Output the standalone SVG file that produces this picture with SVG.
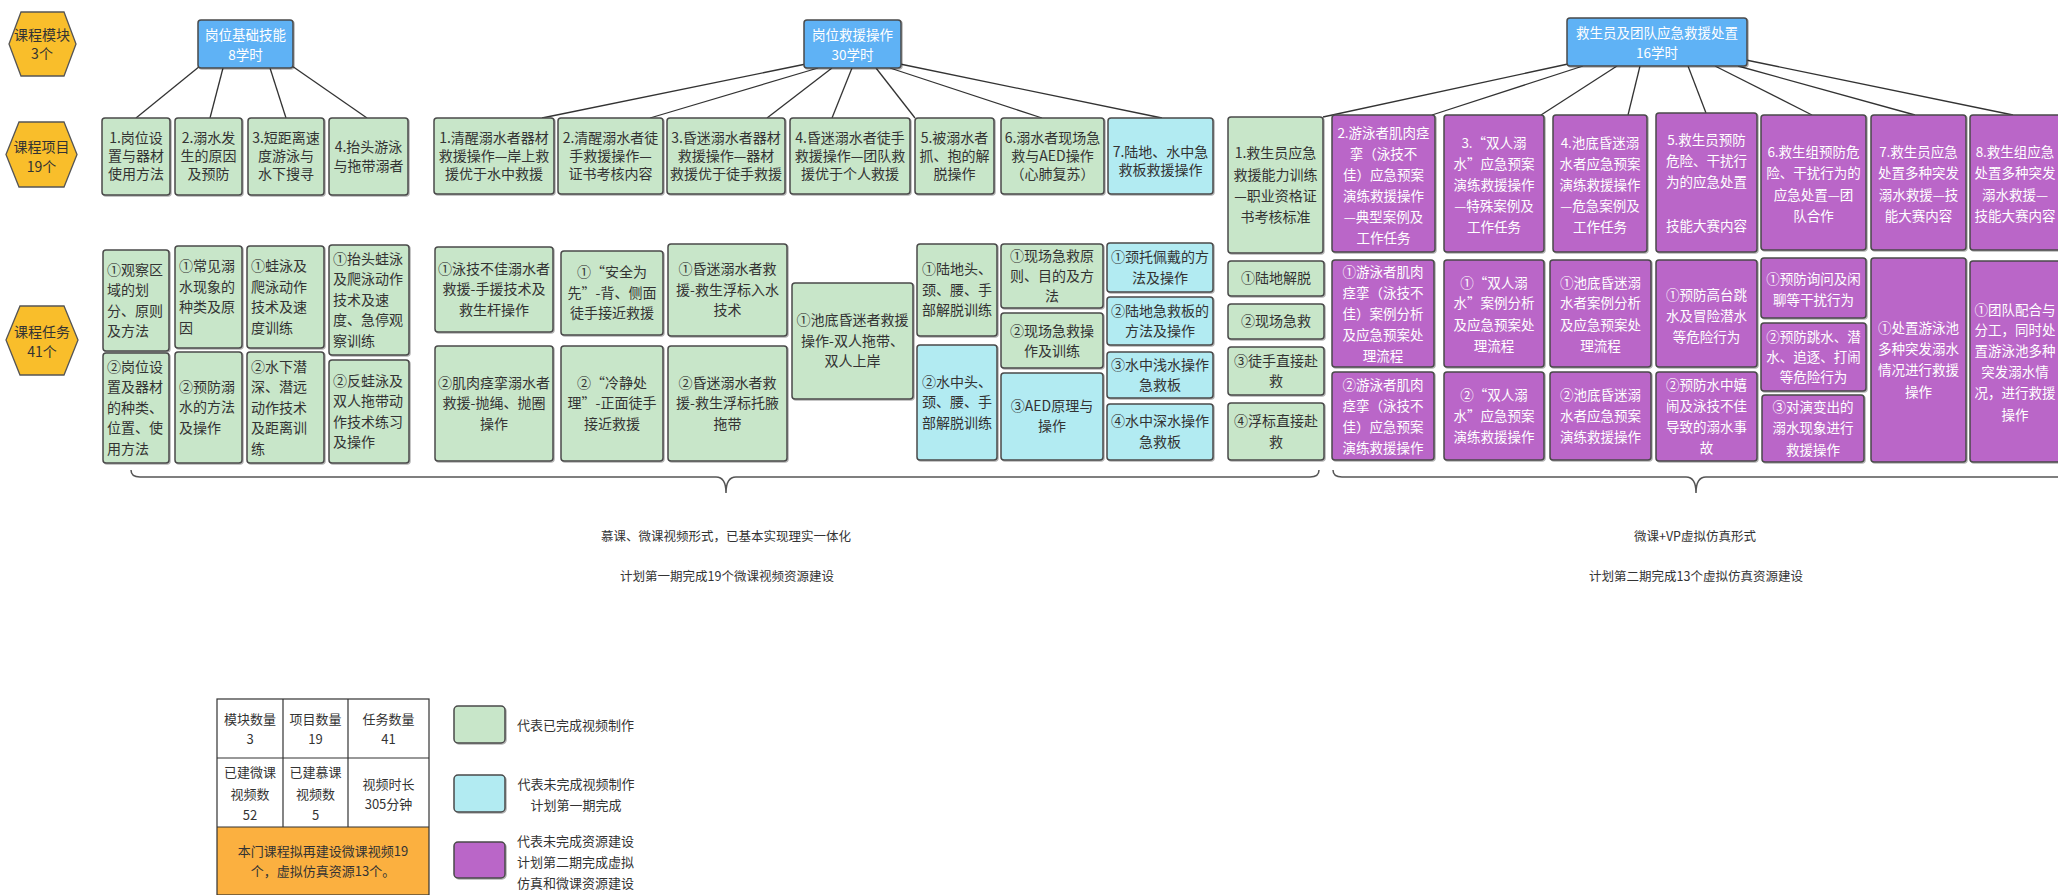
<svg xmlns="http://www.w3.org/2000/svg" width="2058" height="895" viewBox="0 0 2058 895">
<style>
.bx{stroke:#4a4a4a;stroke-width:1.5;filter:url(#sh)}
.g{fill:#C8E6C9}.c{fill:#B2EBF2}.p{fill:#BA66C8}.b{fill:#5FB2F5}.h{fill:#F9BE2B;stroke:#555;stroke-width:1.3}
text{font-family:"Noto Sans CJK SC","Noto Sans",sans-serif;font-size:14px;fill:#333;text-anchor:middle}
.l{text-anchor:start}
.w{fill:#fff;font-size:13.5px}
.bt{fill:#fff;font-size:13.5px}
.s{font-size:12.5px;fill:#333}
.lg{font-size:13px}
.cn line{stroke:#333;stroke-width:1.3}
.br{fill:none;stroke:#555;stroke-width:1.5}
</style>
<defs>
<filter id="sh" x="-5%" y="-5%" width="115%" height="115%"><feDropShadow dx="1" dy="1" stdDeviation="0.7" flood-color="#000" flood-opacity="0.3"/></filter>
</defs>
<rect width="2058" height="895" fill="#fff"/>

<g class="cn" id="connectors">
<line x1="200" y1="66" x2="136" y2="118"/>
<line x1="223" y1="68" x2="210" y2="118"/>
<line x1="270" y1="68" x2="286" y2="118"/>
<line x1="292" y1="66" x2="367" y2="118"/>
<line x1="806" y1="64" x2="542" y2="118"/>
<line x1="818" y1="68" x2="650" y2="118"/>
<line x1="832" y1="68" x2="767" y2="118"/>
<line x1="852" y1="68" x2="832" y2="118"/>
<line x1="876" y1="68" x2="915" y2="118"/>
<line x1="890" y1="68" x2="1042" y2="118"/>
<line x1="900" y1="64" x2="1162" y2="118"/>
<line x1="1568" y1="64" x2="1323" y2="117"/>
<line x1="1583" y1="66" x2="1432" y2="115"/>
<line x1="1617" y1="66" x2="1541" y2="115"/>
<line x1="1640" y1="66" x2="1628" y2="115"/>
<line x1="1688" y1="66" x2="1706" y2="113"/>
<line x1="1715" y1="66" x2="1812" y2="115"/>
<line x1="1738" y1="66" x2="1915" y2="115"/>
<line x1="1746" y1="60" x2="2013" y2="115"/>
</g>

<g id="hex-module"><polygon class="h" points="9,44 21,12 64,12 76,44 64,76 21,76"/><text><tspan x="42" y="40">课程模块</tspan><tspan x="42" y="59">3个</tspan></text></g>
<g id="hex-project"><polygon class="h" points="6,154.5 19,122 64,122 77,154.5 64,187 19,187"/><text><tspan x="41.5" y="152">课程项目</tspan><tspan x="41.5" y="172">19个</tspan></text></g>
<g id="hex-task"><polygon class="h" points="6,340 20,306 64,306 78,340 64,375 20,375"/><text><tspan x="42" y="337">课程任务</tspan><tspan x="42" y="357">41个</tspan></text></g>

<g id="m1"><rect class="bx b" x="198" y="20" width="95" height="48" rx="3"/><text class="bt"><tspan x="245.5" y="40">岗位基础技能</tspan><tspan x="245.5" y="60">8学时</tspan></text></g>
<g id="m2"><rect class="bx b" x="804" y="20" width="97" height="48" rx="3"/><text class="bt"><tspan x="852.5" y="40">岗位救援操作</tspan><tspan x="852.5" y="60">30学时</tspan></text></g>
<g id="m3"><rect class="bx b" x="1567" y="18" width="180" height="48" rx="3"/><text class="bt"><tspan x="1657" y="38">救生员及团队应急救援处置</tspan><tspan x="1657" y="58">16学时</tspan></text></g>

<g id="p1"><rect class="bx g" x="102" y="118" width="68" height="77" rx="3"/><text><tspan x="136" y="143">1.岗位设</tspan><tspan x="136" y="161">置与器材</tspan><tspan x="136" y="179">使用方法</tspan></text></g>
<g id="p2"><rect class="bx g" x="175" y="118" width="67" height="77" rx="3"/><text><tspan x="208.5" y="143">2.溺水发</tspan><tspan x="208.5" y="161">生的原因</tspan><tspan x="208.5" y="179">及预防</tspan></text></g>
<g id="p3"><rect class="bx g" x="248" y="118" width="76" height="77" rx="3"/><text><tspan x="286" y="143">3.短距离速</tspan><tspan x="286" y="161">度游泳与</tspan><tspan x="286" y="179">水下搜寻</tspan></text></g>
<g id="p4"><rect class="bx g" x="329" y="118" width="79" height="77" rx="3"/><text><tspan x="368.5" y="152">4.抬头游泳</tspan><tspan x="368.5" y="171">与拖带溺者</tspan></text></g>
<g id="p5"><rect class="bx g" x="434" y="118" width="120" height="76" rx="3"/><text><tspan x="494" y="143">1.清醒溺水者器材</tspan><tspan x="494" y="161">救援操作—岸上救</tspan><tspan x="494" y="179">援优于水中救援</tspan></text></g>
<g id="p6"><rect class="bx g" x="558" y="118" width="105" height="76" rx="3"/><text><tspan x="610.5" y="143">2.清醒溺水者徒</tspan><tspan x="610.5" y="161">手救援操作—</tspan><tspan x="610.5" y="179">证书考核内容</tspan></text></g>
<g id="p7"><rect class="bx g" x="667" y="118" width="118" height="76" rx="3"/><text><tspan x="726" y="143">3.昏迷溺水者器材</tspan><tspan x="726" y="161">救援操作—器材</tspan><tspan x="726" y="179">救援优于徒手救援</tspan></text></g>
<g id="p8"><rect class="bx g" x="790" y="118" width="120" height="76" rx="3"/><text><tspan x="850" y="143">4.昏迷溺水者徒手</tspan><tspan x="850" y="161">救援操作—团队救</tspan><tspan x="850" y="179">援优于个人救援</tspan></text></g>
<g id="p9"><rect class="bx g" x="915" y="118" width="79" height="76" rx="3"/><text><tspan x="954.5" y="143">5.被溺水者</tspan><tspan x="954.5" y="161">抓、抱的解</tspan><tspan x="954.5" y="179">脱操作</tspan></text></g>
<g id="p10"><rect class="bx g" x="1001" y="118" width="103" height="76" rx="3"/><text><tspan x="1052.5" y="143">6.溺水者现场急</tspan><tspan x="1052.5" y="161">救与AED操作</tspan><tspan x="1052.5" y="179">（心肺复苏）</tspan></text></g>
<g id="p11"><rect class="bx c" x="1108" y="118" width="105" height="76" rx="3"/><text><tspan x="1160.5" y="157">7.陆地、水中急</tspan><tspan x="1160.5" y="175">救板救援操作</tspan></text></g>
<g id="p12"><rect class="bx g" x="1228" y="117" width="95" height="136" rx="3"/><text><tspan x="1275.5" y="158">1.救生员应急</tspan><tspan x="1275.5" y="180">救援能力训练</tspan><tspan x="1275.5" y="201">—职业资格证</tspan><tspan x="1275.5" y="222">书考核标准</tspan></text></g>
<g id="p13"><rect class="bx p" x="1332" y="115" width="103" height="137" rx="3"/><text class="w"><tspan x="1383.5" y="138">2.游泳者肌肉痉</tspan><tspan x="1383.5" y="159">挛（泳技不</tspan><tspan x="1383.5" y="180">佳）应急预案</tspan><tspan x="1383.5" y="201">演练救援操作</tspan><tspan x="1383.5" y="222">—典型案例及</tspan><tspan x="1383.5" y="243">工作任务</tspan></text></g>
<g id="p14"><rect class="bx p" x="1444" y="115" width="100" height="137" rx="3"/><text class="w"><tspan x="1494" y="148">3.“双人溺</tspan><tspan x="1494" y="169">水”应急预案</tspan><tspan x="1494" y="190">演练救援操作</tspan><tspan x="1494" y="211">—特殊案例及</tspan><tspan x="1494" y="232">工作任务</tspan></text></g>
<g id="p15"><rect class="bx p" x="1553" y="115" width="94" height="137" rx="3"/><text class="w"><tspan x="1600" y="148">4.池底昏迷溺</tspan><tspan x="1600" y="169">水者应急预案</tspan><tspan x="1600" y="190">演练救援操作</tspan><tspan x="1600" y="211">—危急案例及</tspan><tspan x="1600" y="232">工作任务</tspan></text></g>
<g id="p16"><rect class="bx p" x="1656" y="113" width="101" height="139" rx="3"/><text class="w"><tspan x="1706.5" y="145">5.救生员预防</tspan><tspan x="1706.5" y="166">危险、干扰行</tspan><tspan x="1706.5" y="187">为的应急处置</tspan><tspan x="1706.5" y="231">技能大赛内容</tspan></text></g>
<g id="p17"><rect class="bx p" x="1761" y="115" width="105" height="135" rx="3"/><text class="w"><tspan x="1813.5" y="157">6.救生组预防危</tspan><tspan x="1813.5" y="178">险、干扰行为的</tspan><tspan x="1813.5" y="200">应急处置—团</tspan><tspan x="1813.5" y="221">队合作</tspan></text></g>
<g id="p18"><rect class="bx p" x="1871" y="115" width="95" height="135" rx="3"/><text class="w"><tspan x="1918.5" y="157">7.救生员应急</tspan><tspan x="1918.5" y="178">处置多种突发</tspan><tspan x="1918.5" y="200">溺水救援—技</tspan><tspan x="1918.5" y="221">能大赛内容</tspan></text></g>
<g id="p19"><rect class="bx p" x="1970" y="115" width="100" height="135" rx="3"/><text class="w"><tspan x="2015" y="157">8.救生组应急</tspan><tspan x="2015" y="178">处置多种突发</tspan><tspan x="2015" y="200">溺水救援—</tspan><tspan x="2015" y="221">技能大赛内容</tspan></text></g>

<g id="t1a"><rect class="bx g" x="103" y="250" width="66" height="101" rx="3"/><text class="l"><tspan x="107" y="275">①观察区</tspan><tspan x="107" y="295">域的划</tspan><tspan x="107" y="316">分、原则</tspan><tspan x="107" y="336">及方法</tspan></text></g>
<g id="t1b"><rect class="bx g" x="103" y="353" width="66" height="110" rx="3"/><text class="l"><tspan x="107" y="372">②岗位设</tspan><tspan x="107" y="392">置及器材</tspan><tspan x="107" y="413">的种类、</tspan><tspan x="107" y="433">位置、使</tspan><tspan x="107" y="454">用方法</tspan></text></g>
<g id="t2a"><rect class="bx g" x="175" y="246" width="67" height="102" rx="3"/><text class="l"><tspan x="179" y="271">①常见溺</tspan><tspan x="179" y="292">水现象的</tspan><tspan x="179" y="312">种类及原</tspan><tspan x="179" y="333">因</tspan></text></g>
<g id="t2b"><rect class="bx g" x="175" y="352" width="67" height="111" rx="3"/><text class="l"><tspan x="179" y="392">②预防溺</tspan><tspan x="179" y="412">水的方法</tspan><tspan x="179" y="433">及操作</tspan></text></g>
<g id="t3a"><rect class="bx g" x="247" y="246" width="77" height="102" rx="3"/><text class="l"><tspan x="251" y="271">①蛙泳及</tspan><tspan x="251" y="292">爬泳动作</tspan><tspan x="251" y="312">技术及速</tspan><tspan x="251" y="333">度训练</tspan></text></g>
<g id="t3b"><rect class="bx g" x="247" y="352" width="77" height="111" rx="3"/><text class="l"><tspan x="251" y="372">②水下潜</tspan><tspan x="251" y="392">深、潜远</tspan><tspan x="251" y="413">动作技术</tspan><tspan x="251" y="433">及距离训</tspan><tspan x="251" y="454">练</tspan></text></g>
<g id="t4a"><rect class="bx g" x="329" y="245" width="80" height="110" rx="3"/><text class="l"><tspan x="333" y="264">①抬头蛙泳</tspan><tspan x="333" y="284">及爬泳动作</tspan><tspan x="333" y="305">技术及速</tspan><tspan x="333" y="325">度、急停观</tspan><tspan x="333" y="346">察训练</tspan></text></g>
<g id="t4b"><rect class="bx g" x="329" y="360" width="80" height="103" rx="3"/><text class="l"><tspan x="333" y="386">②反蛙泳及</tspan><tspan x="333" y="406">双人拖带动</tspan><tspan x="333" y="427">作技术练习</tspan><tspan x="333" y="447">及操作</tspan></text></g>

<g id="t5a"><rect class="bx g" x="435" y="247" width="118" height="85" rx="3"/><text><tspan x="494" y="274">①泳技不佳溺水者</tspan><tspan x="494" y="294">救援-手援技术及</tspan><tspan x="494" y="315">救生杆操作</tspan></text></g>
<g id="t5b"><rect class="bx g" x="435" y="346" width="118" height="115" rx="3"/><text><tspan x="494" y="388">②肌肉痉挛溺水者</tspan><tspan x="494" y="408">救援-抛绳、抛圈</tspan><tspan x="494" y="429">操作</tspan></text></g>
<g id="t6a"><rect class="bx g" x="561" y="251" width="102" height="84" rx="3"/><text><tspan x="612" y="277">①“安全为</tspan><tspan x="612" y="298">先”-背、侧面</tspan><tspan x="612" y="318">徒手接近救援</tspan></text></g>
<g id="t6b"><rect class="bx g" x="561" y="346" width="102" height="115" rx="3"/><text><tspan x="612" y="388">②“冷静处</tspan><tspan x="612" y="408">理”-正面徒手</tspan><tspan x="612" y="429">接近救援</tspan></text></g>
<g id="t7a"><rect class="bx g" x="668" y="244" width="119" height="92" rx="3"/><text><tspan x="727.5" y="274">①昏迷溺水者救</tspan><tspan x="727.5" y="295">援-救生浮标入水</tspan><tspan x="727.5" y="315">技术</tspan></text></g>
<g id="t7b"><rect class="bx g" x="668" y="346" width="119" height="115" rx="3"/><text><tspan x="727.5" y="388">②昏迷溺水者救</tspan><tspan x="727.5" y="408">援-救生浮标托腋</tspan><tspan x="727.5" y="429">拖带</tspan></text></g>
<g id="t8"><rect class="bx g" x="792" y="283" width="121" height="116" rx="3"/><text><tspan x="852.5" y="325">①池底昏迷者救援</tspan><tspan x="852.5" y="346">操作-双人拖带、</tspan><tspan x="852.5" y="366">双人上岸</tspan></text></g>
<g id="t9a"><rect class="bx g" x="917" y="244" width="80" height="92" rx="3"/><text><tspan x="957" y="274">①陆地头、</tspan><tspan x="957" y="295">颈、腰、手</tspan><tspan x="957" y="315">部解脱训练</tspan></text></g>
<g id="t9b"><rect class="bx c" x="917" y="345" width="80" height="115" rx="3"/><text><tspan x="957" y="387">②水中头、</tspan><tspan x="957" y="407">颈、腰、手</tspan><tspan x="957" y="428">部解脱训练</tspan></text></g>
<g id="t10a"><rect class="bx g" x="1001" y="244" width="102" height="64" rx="3"/><text><tspan x="1052" y="261">①现场急救原</tspan><tspan x="1052" y="281">则、目的及方</tspan><tspan x="1052" y="301">法</tspan></text></g>
<g id="t10b"><rect class="bx g" x="1001" y="313" width="102" height="55" rx="3"/><text><tspan x="1052" y="336">②现场急救操</tspan><tspan x="1052" y="356">作及训练</tspan></text></g>
<g id="t10c"><rect class="bx c" x="1001" y="373" width="102" height="87" rx="3"/><text><tspan x="1052" y="411">③AED原理与</tspan><tspan x="1052" y="431">操作</tspan></text></g>
<g id="t11a"><rect class="bx c" x="1107" y="243" width="106" height="49" rx="3"/><text><tspan x="1160" y="262">①颈托佩戴的方</tspan><tspan x="1160" y="283">法及操作</tspan></text></g>
<g id="t11b"><rect class="bx c" x="1107" y="297" width="106" height="48" rx="3"/><text><tspan x="1160" y="316">②陆地急救板的</tspan><tspan x="1160" y="336">方法及操作</tspan></text></g>
<g id="t11c"><rect class="bx c" x="1107" y="352" width="106" height="46" rx="3"/><text><tspan x="1160" y="370">③水中浅水操作</tspan><tspan x="1160" y="390">急救板</tspan></text></g>
<g id="t11d"><rect class="bx c" x="1107" y="404" width="106" height="56" rx="3"/><text><tspan x="1160" y="426">④水中深水操作</tspan><tspan x="1160" y="447">急救板</tspan></text></g>
<g id="t12a"><rect class="bx g" x="1228" y="261" width="96" height="35" rx="3"/><text><tspan x="1276" y="283">①陆地解脱</tspan></text></g>
<g id="t12b"><rect class="bx g" x="1228" y="304" width="96" height="35" rx="3"/><text><tspan x="1276" y="326">②现场急救</tspan></text></g>
<g id="t12c"><rect class="bx g" x="1228" y="347" width="96" height="48" rx="3"/><text><tspan x="1276" y="366">③徒手直接赴</tspan><tspan x="1276" y="386">救</tspan></text></g>
<g id="t12d"><rect class="bx g" x="1228" y="403" width="96" height="57" rx="3"/><text><tspan x="1276" y="426">④浮标直接赴</tspan><tspan x="1276" y="447">救</tspan></text></g>

<g id="t13a"><rect class="bx p" x="1332" y="260" width="102" height="107" rx="3"/><text class="w"><tspan x="1383" y="277">①游泳者肌肉</tspan><tspan x="1383" y="298">痉挛（泳技不</tspan><tspan x="1383" y="319">佳）案例分析</tspan><tspan x="1383" y="340">及应急预案处</tspan><tspan x="1383" y="361">理流程</tspan></text></g>
<g id="t13b"><rect class="bx p" x="1332" y="372" width="102" height="88" rx="3"/><text class="w"><tspan x="1383" y="390">②游泳者肌肉</tspan><tspan x="1383" y="411">痉挛（泳技不</tspan><tspan x="1383" y="432">佳）应急预案</tspan><tspan x="1383" y="453">演练救援操作</tspan></text></g>
<g id="t14a"><rect class="bx p" x="1444" y="260" width="100" height="107" rx="3"/><text class="w"><tspan x="1494" y="288">①“双人溺</tspan><tspan x="1494" y="308">水”案例分析</tspan><tspan x="1494" y="330">及应急预案处</tspan><tspan x="1494" y="351">理流程</tspan></text></g>
<g id="t14b"><rect class="bx p" x="1444" y="372" width="100" height="88" rx="3"/><text class="w"><tspan x="1494" y="400">②“双人溺</tspan><tspan x="1494" y="421">水”应急预案</tspan><tspan x="1494" y="442">演练救援操作</tspan></text></g>
<g id="t15a"><rect class="bx p" x="1550" y="260" width="101" height="107" rx="3"/><text class="w"><tspan x="1600.5" y="288">①池底昏迷溺</tspan><tspan x="1600.5" y="308">水者案例分析</tspan><tspan x="1600.5" y="330">及应急预案处</tspan><tspan x="1600.5" y="351">理流程</tspan></text></g>
<g id="t15b"><rect class="bx p" x="1550" y="372" width="101" height="88" rx="3"/><text class="w"><tspan x="1600.5" y="400">②池底昏迷溺</tspan><tspan x="1600.5" y="421">水者应急预案</tspan><tspan x="1600.5" y="442">演练救援操作</tspan></text></g>
<g id="t16a"><rect class="bx p" x="1656" y="260" width="101" height="107" rx="3"/><text class="w"><tspan x="1706.5" y="300">①预防高台跳</tspan><tspan x="1706.5" y="321">水及冒险潜水</tspan><tspan x="1706.5" y="342">等危险行为</tspan></text></g>
<g id="t16b"><rect class="bx p" x="1656" y="372" width="101" height="89" rx="3"/><text class="w"><tspan x="1706.5" y="390">②预防水中嬉</tspan><tspan x="1706.5" y="411">闹及泳技不佳</tspan><tspan x="1706.5" y="432">导致的溺水事</tspan><tspan x="1706.5" y="453">故</tspan></text></g>
<g id="t17a"><rect class="bx p" x="1761" y="258" width="105" height="60" rx="3"/><text class="w"><tspan x="1813.5" y="284">①预防询问及闲</tspan><tspan x="1813.5" y="305">聊等干扰行为</tspan></text></g>
<g id="t17b"><rect class="bx p" x="1761" y="323" width="105" height="68" rx="3"/><text class="w"><tspan x="1813.5" y="342">②预防跳水、潜</tspan><tspan x="1813.5" y="362">水、追逐、打闹</tspan><tspan x="1813.5" y="382">等危险行为</tspan></text></g>
<g id="t17c"><rect class="bx p" x="1762" y="395" width="102" height="67" rx="3"/><text class="w"><tspan x="1813" y="412">③对演变出的</tspan><tspan x="1813" y="433">溺水现象进行</tspan><tspan x="1813" y="455">救援操作</tspan></text></g>
<g id="t18"><rect class="bx p" x="1871" y="258" width="95" height="204" rx="3"/><text class="w"><tspan x="1918.5" y="333">①处置游泳池</tspan><tspan x="1918.5" y="354">多种突发溺水</tspan><tspan x="1918.5" y="375">情况进行救援</tspan><tspan x="1918.5" y="397">操作</tspan></text></g>
<g id="t19"><rect class="bx p" x="1970" y="261" width="100" height="201" rx="3"/><text class="w"><tspan x="2015" y="315">①团队配合与</tspan><tspan x="2015" y="335">分工，同时处</tspan><tspan x="2015" y="356">置游泳池多种</tspan><tspan x="2015" y="377">突发溺水情</tspan><tspan x="2015" y="398">况，进行救援</tspan><tspan x="2015" y="420">操作</tspan></text></g>

<g id="brackets">
<path class="br" d="M131,470 Q131,477 140,477 L716,477 Q726,477 726,493 Q726,477 736,477 L1310,477 Q1319,477 1319,470"/>
<path class="br" d="M1333,470 Q1333,477 1342,477 L1686,477 Q1696,477 1696,493 Q1696,477 1706,477 L2066,477"/>
</g>
<g id="phase-notes">
<text class="s" x="726" y="541">慕课、微课视频形式，已基本实现理实一体化</text>
<text class="s" x="727" y="581">计划第一期完成19个微课视频资源建设</text>
<text class="s" x="1695" y="541">微课+VP虚拟仿真形式</text>
<text class="s" x="1696" y="581">计划第二期完成13个虚拟仿真资源建设</text>
</g>

<g id="stats-table">
<rect x="217" y="827" width="212" height="68" fill="#FBB040"/>
<g fill="none" stroke="#333" stroke-width="1.2">
<rect x="217" y="699" width="212" height="196"/>
<line x1="217" y1="758" x2="429" y2="758"/>
<line x1="217" y1="827" x2="429" y2="827"/>
<line x1="283" y1="699" x2="283" y2="827"/>
<line x1="348" y1="699" x2="348" y2="827"/>
</g>
<text class="lg"><tspan x="250" y="724">模块数量</tspan><tspan x="250" y="744">3</tspan></text>
<text class="lg"><tspan x="315.5" y="724">项目数量</tspan><tspan x="315.5" y="744">19</tspan></text>
<text class="lg"><tspan x="388.5" y="724">任务数量</tspan><tspan x="388.5" y="744">41</tspan></text>
<text class="lg"><tspan x="250" y="777">已建微课</tspan><tspan x="250" y="799">视频数</tspan><tspan x="250" y="820">52</tspan></text>
<text class="lg"><tspan x="315.5" y="777">已建慕课</tspan><tspan x="315.5" y="799">视频数</tspan><tspan x="315.5" y="820">5</tspan></text>
<text class="lg"><tspan x="388.5" y="789">视频时长</tspan><tspan x="388.5" y="809">305分钟</tspan></text>
<text class="lg"><tspan x="323" y="856">本门课程拟再建设微课视频19</tspan><tspan x="323" y="876">个，虚拟仿真资源13个。</tspan></text>
</g>

<g id="legend">
<rect class="bx g" x="454" y="706" width="51" height="37" rx="4"/>
<rect class="bx c" x="454" y="775" width="51" height="37" rx="4"/>
<rect class="bx p" x="454" y="842" width="51" height="36" rx="4"/>
<text class="lg l" x="517" y="730">代表已完成视频制作</text>
<text class="lg"><tspan x="576" y="789">代表未完成视频制作</tspan><tspan x="576" y="810">计划第一期完成</tspan></text>
<text class="lg l"><tspan x="517" y="846">代表未完成资源建设</tspan><tspan x="517" y="867">计划第二期完成虚拟</tspan><tspan x="517" y="888">仿真和微课资源建设</tspan></text>
</g>
</svg>
